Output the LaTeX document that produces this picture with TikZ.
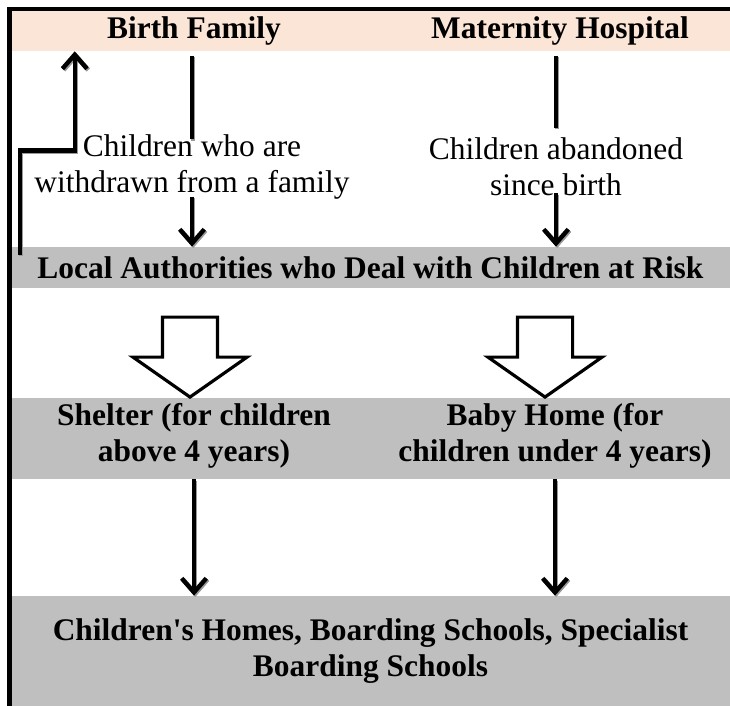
\documentclass[tikz,border=0pt]{standalone}
\usepackage{fontspec}
\setmainfont{Liberation Serif}[Ligatures=TeXOff]
\usetikzlibrary{arrows.meta,shapes.arrows}
\definecolor{peach}{HTML}{FBE5D6}
\definecolor{bandgray}{HTML}{BFBFBF}
\newcommand{\diagfont}{\fontsize{17.9}{20.5}\selectfont}
\tikzset{
  band/.style={fill=#1, draw=none, inner sep=0pt, minimum width=14.38cm, align=center, font=\diagfont\bfseries},
  lbl/.style={inner sep=0pt, align=center, font=\diagfont\bfseries},
  txt/.style={inner sep=0pt, align=center, font=\diagfont},
  stem/.style={line width=2.5pt, preaction={draw=black!40, line width=2.5pt, transform canvas={shift={(1.2,1.2)}}}},
  arr/.style={stem, -{Straight Barb[length=8pt,width=14pt,line width=2.5pt]},
    preaction={draw=black!40, line width=2.5pt, -{Straight Barb[length=8pt,width=14pt]}, transform canvas={shift={(1.2,1.2)}}}},
  hollow/.style={single arrow, draw, fill=white, line width=1.8pt, rotate=-90, anchor=tip,
    minimum height=1.6cm, minimum width=2.22cm, inner xsep=0pt, inner ysep=0.52cm,
    single arrow head extend=0.59cm, single arrow tip angle=110},
  frame/.style={line width=2.3pt}
}
\begin{document}
\begin{tikzpicture}[x=0.02cm, y=-0.02cm]
\useasboundingbox (0,0) rectangle (730,706);
% bands
\node[band=peach, minimum height=0.8cm] (tb) at (370.5,31) {};
\node[band=bandgray, minimum height=0.82cm] (la) at (370.5,267.5) {Local Authorities who Deal with Children at Risk};
\node[band=bandgray, minimum height=1.62cm] (sb) at (370.5,438.5) {};
\node[band=bandgray, minimum height=2.2cm] (hb) at (370.5,651) {Children's Homes, Boarding Schools, Specialist\\Boarding Schools};
% frame
\draw[frame] (730,9) -| (9.5,706);
% texts
\node[lbl] (bf) at (194,31) {Birth Family};
\node[lbl] (mh) at (560,31) {Maternity Hospital};
\node[txt] (wd) at (192,167) {Children who are\\withdrawn from a family};
\node[txt] (ab) at (556,167) {Children abandoned\\since birth};
\node[lbl] (sh) at (194,436) {Shelter (for children\\above 4 years)};
\node[lbl] (bh) at (555,436) {Baby Home (for\\children under 4 years)};
% hollow arrows
\node[hollow] (ha) at (190,399) {};
\node[hollow] (hb2) at (545,399) {};
% connectors
\draw[stem, shorten <=0.2cm, shorten >=-0.1cm] (bf.south -| wd) -- (wd.north);
\draw[stem, shorten <=0.2cm, shorten >=0.2cm] (mh.south -| ab) -- (ab.north);
\draw[arr, shorten <=-0.06cm] (wd.south) -- (wd.south |- la.north);
\draw[arr, shorten <=-0.06cm] (ab.south) -- (ab.south |- la.north);
\draw[arr] (sh.south |- sb.south) -- (sh.south |- hb.north);
\draw[arr] (bh.south |- sb.south) -- (bh.south |- hb.north);
\draw[arr] ([shift={(9,8)}]la.north west) |- ([shift={(64,99)}]tb.south west) -- ([shift={(64,0)}]tb.south west);
\end{tikzpicture}
\end{document}
